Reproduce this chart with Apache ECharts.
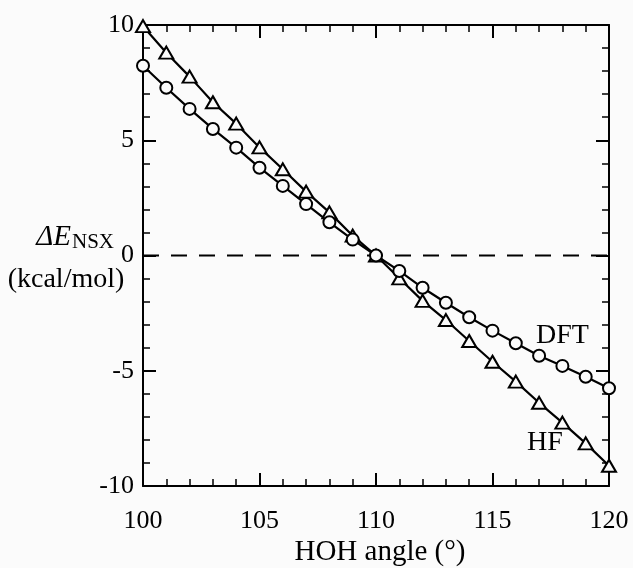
<!DOCTYPE html>
<html>
<head>
<meta charset="utf-8">
<script src="https://cdn.jsdelivr.net/npm/echarts@6/dist/echarts.min.js"></script>
<style>
  html, body { margin: 0; padding: 0; background: #fbfbfb; }
  #chart { width: 633px; height: 568px; }
</style>
</head>
<body>
<div id="chart"></div>
<script>
// HOH angle (degrees)
const angles = [100, 101, 102, 103, 104, 105, 106, 107, 108, 109, 110,
                111, 112, 113, 114, 115, 116, 117, 118, 119, 120];
// Delta E_NSX, kcal/mol
const hfValues = [9.95, 8.8, 7.76, 6.65, 5.72, 4.69, 3.74, 2.77, 1.87, 0.86, 0,
                  -0.99, -1.97, -2.8, -3.71, -4.61, -5.47, -6.39, -7.25, -8.15, -9.12];
const dftValues = [8.23, 7.28, 6.36, 5.49, 4.68, 3.81, 3.02, 2.23, 1.44, 0.69, 0,
                   -0.67, -1.4, -2.05, -2.68, -3.26, -3.81, -4.35, -4.79, -5.26, -5.76];
const yTicks = [-10, -5, 0, 5, 10];

const font = 'Liberation Serif';
const bg = '#fbfbfb';
const chart = echarts.init(document.getElementById('chart'));

const pairs = vals => angles.map((a, i) => [a, vals[i]]);

const frameAxis = (extra) => Object.assign({
    type: 'value',
    interval: 5,
    axisLine: { show: true, onZero: false, lineStyle: { color: '#000', width: 2 } },
    axisTick: { show: true, inside: true, length: 13, lineStyle: { color: '#000', width: 2 } },
    minorTick: { show: true, splitNumber: 5, length: 7, lineStyle: { color: '#000', width: 1.5 } },
    splitLine: { show: false },
    axisLabel: { show: false }
}, extra);

const labelStyle = { show: true, color: '#000', fontFamily: font, fontSize: 26 };

chart.setOption({
    backgroundColor: bg,
    animation: false,
    grid: { left: 143, right: 24, top: 25, bottom: 82 },
    xAxis: [
        frameAxis({ min: 100, max: 120, position: 'bottom',
            axisLabel: Object.assign({ margin: 22 }, labelStyle) }),
        frameAxis({ min: 100, max: 120, position: 'top' })
    ],
    yAxis: [
        frameAxis({ min: -10, max: 10, position: 'left',
            axisLabel: Object.assign({ margin: 9, formatter: v => yTicks.includes(v) ? String(v) : '' }, labelStyle) }),
        frameAxis({ min: -10, max: 10, position: 'right' })
    ],
    series: [
        {
            name: 'zero',
            type: 'line',
            data: [[100, 0], [120, 0]],
            symbol: 'none',
            silent: true,
            z: 1,
            lineStyle: { color: '#000', width: 2, type: [16, 12] }
        },
        {
            name: 'HF',
            type: 'line',
            data: pairs(hfValues),
            symbol: 'triangle',
            symbolSize: [14, 12],
            lineStyle: { color: '#000', width: 2.2 },
            itemStyle: { color: bg, borderColor: '#000', borderWidth: 2 }
        },
        {
            name: 'DFT',
            type: 'line',
            data: pairs(dftValues),
            symbol: 'circle',
            symbolSize: 12,
            lineStyle: { color: '#000', width: 2.2 },
            itemStyle: { color: bg, borderColor: '#000', borderWidth: 2 }
        }
    ],
    graphic: [
        { type: 'text', x: 536, y: 350,
          style: { text: 'DFT', fontFamily: font, fontSize: 28, fill: '#000', verticalAlign: 'bottom' } },
        { type: 'text', x: 527, y: 457,
          style: { text: 'HF', fontFamily: font, fontSize: 28, fill: '#000', verticalAlign: 'bottom' } },
        { type: 'text', x: 114, y: 253,
          style: {
              text: '{it|ΔE}{sub|NSX}',
              align: 'right',
              verticalAlign: 'bottom',
              rich: {
                  it: { fontFamily: font, fontStyle: 'italic', fontSize: 29, color: '#000' },
                  sub: { fontFamily: font, fontSize: 21, color: '#000', padding: [10, 0, 0, 1] }
              }
          } },
        { type: 'text', x: 66, y: 280,
          style: { text: '(kcal/mol)', fontFamily: font, fontSize: 28, fill: '#000',
                   align: 'center', verticalAlign: 'middle' } },
        { type: 'text', x: 380, y: 552,
          style: { text: 'HOH angle (°)', fontFamily: font, fontSize: 29, fill: '#000',
                   align: 'center', verticalAlign: 'middle' } }
    ]
});
</script>
</body>
</html>
